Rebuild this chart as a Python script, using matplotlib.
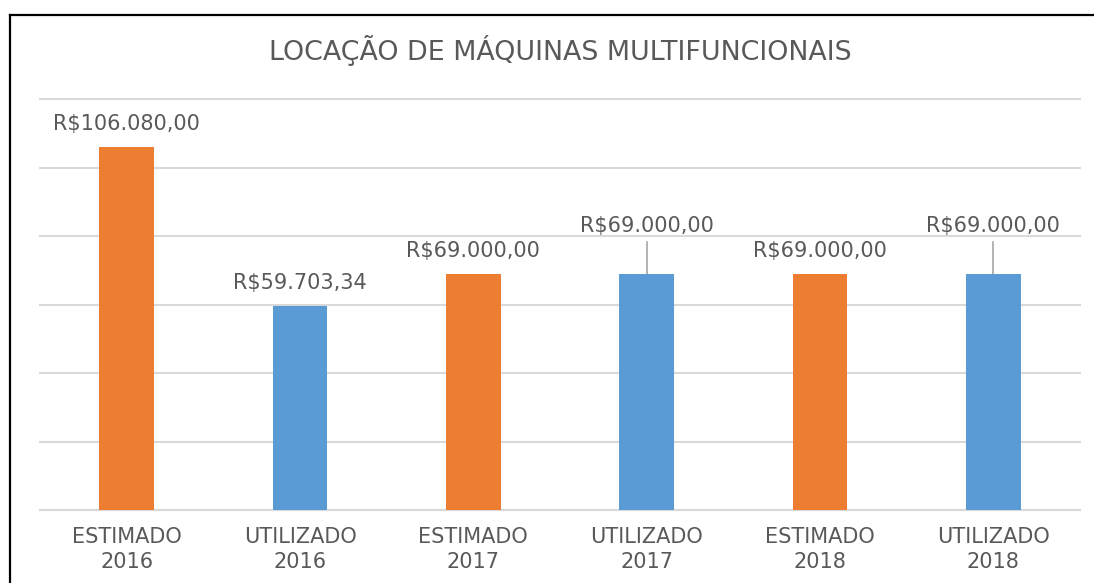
import numpy as np
import matplotlib
matplotlib.use("Agg")
import matplotlib.pyplot as plt
from matplotlib.lines import Line2D

categories = ["ESTIMADO\n2016", "UTILIZADO\n2016", "ESTIMADO\n2017",
              "UTILIZADO\n2017", "ESTIMADO\n2018", "UTILIZADO\n2018"]
values = [106080.00, 59703.34, 69000.00, 69000.00, 69000.00, 69000.00]
labels = ["R$106.080,00", "R$59.703,34", "R$69.000,00",
          "R$69.000,00", "R$69.000,00", "R$69.000,00"]
raised = [False, False, False, True, False, True]  # labels pulled up with a leader line

ORANGE = "#ED7D31"
BLUE = "#5B9BD5"
TXT = "#595959"
GRID = "#D9D9D9"

W, H = 1094, 583
fig = plt.figure(figsize=(W / 100, H / 100), dpi=100)
ax = fig.add_axes([40 / W, (H - 510) / H, 1040 / W, 411 / H])

x = np.arange(len(values))
colors = [ORANGE if i % 2 == 0 else BLUE for i in x]
ax.bar(x, values, width=0.317, color=colors, zorder=3)

ax.set_xlim(-0.5, len(values) - 0.5)
ax.set_ylim(0, 120000)
ax.set_yticks(np.arange(0, 120001, 20000))
ax.yaxis.grid(True, color=GRID, lw=1.5, zorder=0)
for gl in ax.get_ygridlines():
    gl.set_clip_on(False)
ax.tick_params(axis="y", left=False, labelleft=False)
ax.tick_params(axis="x", bottom=False, colors=TXT, labelsize=15, pad=9)
ax.set_xticks(x)
ax.set_xticklabels(categories, linespacing=1.3)
for s in ["top", "right", "left"]:
    ax.spines[s].set_visible(False)
ax.spines["bottom"].set_color(GRID)
ax.spines["bottom"].set_linewidth(1.5)

# px -> data units for y
ppy = 411 / 120000
for i, (v, lab, up) in enumerate(zip(values, labels, raised)):
    if up:
        ax.plot([i, i], [v, v + 32 / ppy], color="#A6A6A6", lw=1.2, zorder=2)
        ax.text(i, v + 48 / ppy, lab, ha="center", va="center", fontsize=15, color=TXT)
    else:
        ax.text(i, v + 23 / ppy, lab, ha="center", va="center", fontsize=15, color=TXT)

fig.text(560 / W, (H - 50) / H, "LOCAÇÃO DE MÁQUINAS MULTIFUNCIONAIS",
         ha="center", va="center", fontsize=19.4, color=TXT)

# outer frame (top and left edges visible)
fig.add_artist(Line2D([10 / W, 1], [(H - 15) / H] * 2, color="black", lw=1.6))
fig.add_artist(Line2D([10 / W] * 2, [0, (H - 15) / H], color="black", lw=1.6))

fig.savefig("out.png", dpi=100)
